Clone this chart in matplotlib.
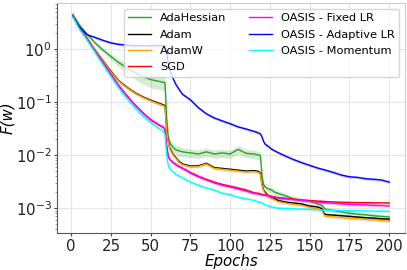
import matplotlib
matplotlib.use("Agg")
import matplotlib.pyplot as plt
import numpy as np

epochs = [1, 5, 10, 15, 20, 25, 30, 35, 40, 45, 50, 55,
          58, 59, 60, 61, 62, 64, 66, 68, 70,
          75, 80, 85, 90, 95, 100, 105, 110, 115,
          118, 119, 120, 121, 122, 124, 126, 128, 130,
          135, 140, 145, 150, 155,
          157, 158, 159, 160,
          165, 170, 175, 180, 185, 190, 195, 200]

adahessian = [4.5, 2.9, 1.9, 1.3, 0.95, 0.72, 0.55, 0.44, 0.36, 0.30, 0.265, 0.245,
              0.235, 0.23, 0.05, 0.022, 0.017, 0.014, 0.0125, 0.012, 0.0115,
              0.011, 0.0105, 0.0115, 0.0105, 0.011, 0.0105, 0.0128, 0.0108, 0.0105,
              0.010, 0.0098, 0.004, 0.0028, 0.0025, 0.0023, 0.0022, 0.0020, 0.0019,
              0.0017, 0.0015, 0.0014, 0.00135, 0.0012,
              0.00115, 0.0011, 0.0010, 0.00095,
              0.0009, 0.00085, 0.0008, 0.00077, 0.00075, 0.00072, 0.0007, 0.00068]

adam = [4.4, 2.6, 1.6, 0.95, 0.6, 0.38, 0.25, 0.19, 0.15, 0.125, 0.108, 0.095,
        0.088, 0.085, 0.03, 0.018, 0.0135, 0.0105, 0.0088, 0.0075, 0.0068,
        0.0062, 0.0063, 0.0070, 0.0058, 0.0056, 0.0054, 0.0052, 0.0050, 0.0051,
        0.0049, 0.0045, 0.0028, 0.0022, 0.0020, 0.0017, 0.0016, 0.0015, 0.0014,
        0.0013, 0.00125, 0.0012, 0.0011, 0.00105,
        0.0010, 0.00095, 0.0008, 0.00076,
        0.00074, 0.00072, 0.0007, 0.00068, 0.00066, 0.00065, 0.00063, 0.00062]

adamw = [4.4, 2.6, 1.58, 0.94, 0.59, 0.37, 0.245, 0.186, 0.147, 0.122, 0.105, 0.092,
         0.085, 0.082, 0.029, 0.0175, 0.013, 0.0101, 0.0085, 0.0072, 0.0066,
         0.0060, 0.0061, 0.0068, 0.0056, 0.0054, 0.0052, 0.0050, 0.0048, 0.0049,
         0.0047, 0.0043, 0.0027, 0.0021, 0.0019, 0.0016, 0.00152, 0.00143, 0.00133,
         0.00124, 0.00118, 0.00113, 0.00103, 0.00098,
         0.00093, 0.00088, 0.00074, 0.0007,
         0.00068, 0.00066, 0.00064, 0.00063, 0.00061, 0.0006, 0.00058, 0.00057]

sgd = [4.2, 2.5, 1.5, 0.9, 0.55, 0.335, 0.202, 0.132, 0.089, 0.063, 0.0465, 0.0375,
       0.0335, 0.0305, 0.0152, 0.0096, 0.0083, 0.0073, 0.0066, 0.0061, 0.0057,
       0.0047, 0.0040, 0.0035, 0.0031, 0.0028, 0.0026, 0.0024, 0.0022, 0.00195,
       0.0019, 0.00185, 0.00182, 0.0018, 0.00178, 0.00173, 0.00168, 0.00163, 0.00158,
       0.00153, 0.00148, 0.00143, 0.00139, 0.00136,
       0.00135, 0.00134, 0.00134, 0.00133,
       0.00131, 0.00129, 0.00128, 0.00127, 0.00127, 0.00126, 0.00126, 0.00125]

oasis_fixed = [4.2, 2.5, 1.5, 0.9, 0.55, 0.33, 0.2, 0.13, 0.088, 0.062, 0.046, 0.037,
               0.033, 0.030, 0.015, 0.0095, 0.0082, 0.0072, 0.0065, 0.0060, 0.0056,
               0.0046, 0.0039, 0.0034, 0.0030, 0.0027, 0.0025, 0.0023, 0.0021, 0.0019,
               0.00185, 0.0018, 0.00178, 0.00176, 0.00175, 0.0017, 0.00165, 0.0016, 0.00155,
               0.0015, 0.00145, 0.0014, 0.00135, 0.0013,
               0.00128, 0.00127, 0.00127, 0.00126,
               0.00124, 0.0012, 0.00118, 0.00116, 0.00115, 0.00113, 0.00112, 0.0011]

oasis_adaptive = [4.0, 2.6, 1.85, 1.65, 1.45, 1.3, 1.22, 1.18, 1.15, 1.15, 1.15, 1.16,
                  1.17, 1.12, 0.85, 0.55, 0.4, 0.28, 0.21, 0.17, 0.14,
                  0.11, 0.078, 0.06, 0.05, 0.044, 0.039, 0.034, 0.031, 0.028,
                  0.026, 0.025, 0.022, 0.018, 0.016, 0.0145, 0.013, 0.012, 0.0112,
                  0.0095, 0.0082, 0.0072, 0.0064, 0.0057,
                  0.0055, 0.0054, 0.0053, 0.0052,
                  0.0047, 0.0042, 0.0039, 0.0038, 0.0036, 0.0035, 0.0034, 0.0031]

oasis_momentum = [4.0, 2.4, 1.45, 0.85, 0.5, 0.3, 0.18, 0.115, 0.078, 0.055, 0.041, 0.032,
                  0.028, 0.024, 0.010, 0.0065, 0.0055, 0.0048, 0.0043, 0.0040, 0.0037,
                  0.0031, 0.0027, 0.0024, 0.0022, 0.0019, 0.0018, 0.0016, 0.0015, 0.0014,
                  0.0013, 0.0013, 0.00125, 0.0012, 0.00115, 0.0011, 0.00106, 0.00103, 0.0010,
                  0.00099, 0.00097, 0.00096, 0.00095, 0.00093,
                  0.00093, 0.00092, 0.00092, 0.00092,
                  0.00091, 0.0009, 0.0009, 0.00089, 0.00089, 0.00088, 0.00088, 0.00087]

# relative spread of the shaded band around AdaHessian
adahessian_spread = [0.02, 0.03, 0.05, 0.08, 0.1, 0.13, 0.17, 0.2, 0.24, 0.27, 0.3, 0.3,
                     0.3, 0.3, 0.25, 0.2, 0.2, 0.2, 0.2, 0.2, 0.2,
                     0.18, 0.18, 0.18, 0.18, 0.18, 0.18, 0.18, 0.18, 0.18,
                     0.18, 0.15, 0.12, 0.12, 0.12, 0.12, 0.12, 0.12, 0.12,
                     0.1, 0.1, 0.1, 0.1, 0.1,
                     0.1, 0.1, 0.1, 0.1,
                     0.1, 0.1, 0.1, 0.1, 0.1, 0.1, 0.1, 0.1]
other_spread = 0.06

series = [
    ("AdaHessian", adahessian, "tab:green", adahessian_spread),
    ("Adam", adam, "black", other_spread),
    ("AdamW", adamw, "orange", other_spread),
    ("SGD", sgd, "red", other_spread),
    ("OASIS - Fixed LR", oasis_fixed, "magenta", other_spread),
    ("OASIS - Adaptive LR", oasis_adaptive, "blue", other_spread),
    ("OASIS - Momentum", oasis_momentum, "cyan", other_spread),
]

fig = plt.figure(figsize=(4.07, 2.70), dpi=100)
ax = fig.add_axes([57 / 407, 37 / 270, 348 / 407, 230 / 270])

x = np.array(epochs)
for name, vals, color, spread in series:
    v = np.array(vals)
    s = np.array(spread) * v
    ax.fill_between(x, v - s, v + s, color=color, alpha=0.2, linewidth=0)
    ax.plot(x, v, color=color, lw=1.0, label=name)

ax.set_yscale("log")
ax.set_xticks([0, 25, 50, 75, 100, 125, 150, 175, 200])
ax.grid(True, color="#e6e6e6", linewidth=0.8)
ax.set_axisbelow(True)
ax.tick_params(which="major", length=2.5, pad=1.5, labelsize=10.8,
               colors="#444444", labelcolor="#222222")
ax.tick_params(which="minor", length=1.5, colors="#888888")
for side in ["left", "bottom"]:
    ax.spines[side].set_color("#555555")
for side in ["top", "right"]:
    ax.spines[side].set_color("#cccccc")

ax.set_xlabel("Epochs", fontsize=10.8, style="italic")
ax.set_ylabel("F(w)", fontsize=10.8, style="italic")
ax.xaxis.set_label_coords(0.5, -0.09)
ax.yaxis.set_label_coords(-0.12, 0.5)
ax.legend(ncol=2, fontsize=8.2, loc="upper right", labelspacing=0.55)

fig.savefig("out.png", dpi=100)
